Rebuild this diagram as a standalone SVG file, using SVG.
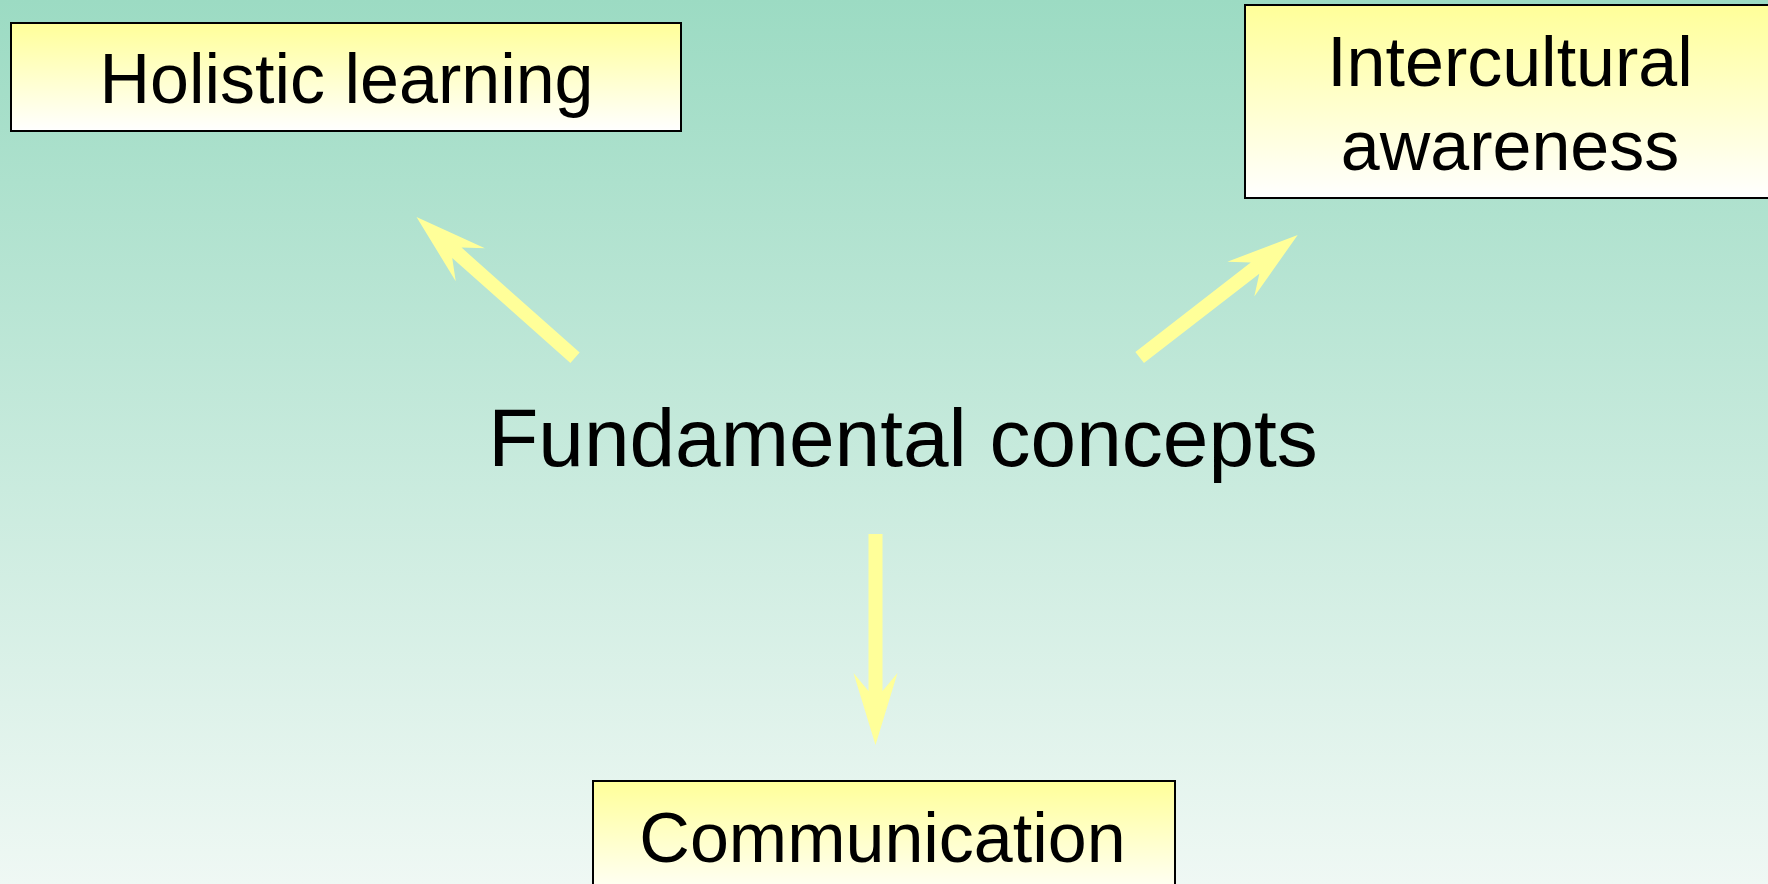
<svg xmlns="http://www.w3.org/2000/svg" width="1768" height="884" viewBox="0 0 1768 884">
<defs>
<linearGradient id="bg" x1="0" y1="0" x2="0" y2="1">
<stop offset="0" stop-color="#9cdbc3"/>
<stop offset="1" stop-color="#eff8f4"/>
</linearGradient>
<linearGradient id="boxfill" x1="0" y1="0" x2="0" y2="1">
<stop offset="0" stop-color="#ffff99"/>
<stop offset="1" stop-color="#ffffff"/>
</linearGradient>
<style>
.box{fill:url(#boxfill);stroke:#000;stroke-width:2}
.lbl{font-family:"Liberation Sans",Arial,sans-serif;font-size:70px;fill:#000;text-anchor:middle}
.main{font-family:"Liberation Sans",Arial,sans-serif;font-size:82px;fill:#000;text-anchor:middle}
.arr{fill:#ffff99}
</style>
</defs>
<rect x="0" y="0" width="1768" height="884" fill="url(#bg)"/>
<g id="connectors">
<polygon class="arr" transform="translate(416.5,217) rotate(-138.4)" points="0,0 -72,-22 -54,-7 -212,-7 -212,7 -54,7 -72,22"/>
<polygon class="arr" transform="translate(1297.7,235) rotate(-37.8)" points="0,0 -72,-22 -54,-7 -200,-7 -200,7 -54,7 -72,22"/>
<polygon class="arr" transform="translate(875.5,745) rotate(90)" points="0,0 -72,-22 -54,-7 -211,-7 -211,7 -54,7 -72,22"/>
</g>
<g id="holistic">
<rect class="box" x="11" y="23" width="670" height="108"/>
<text class="lbl" x="346.5" y="103.3">Holistic learning</text>
</g>
<g id="intercultural">
<rect class="box" x="1245" y="5" width="540" height="193"/>
<text class="lbl" x="1510" y="86">Intercultural</text>
<text class="lbl" x="1510" y="170">awareness</text>
</g>
<g id="communication">
<rect class="box" x="593" y="781" width="582" height="120"/>
<text class="lbl" x="882.5" y="861.7">Communication</text>
</g>
<g id="fundamental">
<text class="main" x="903" y="466">Fundamental concepts</text>
</g>
</svg>
